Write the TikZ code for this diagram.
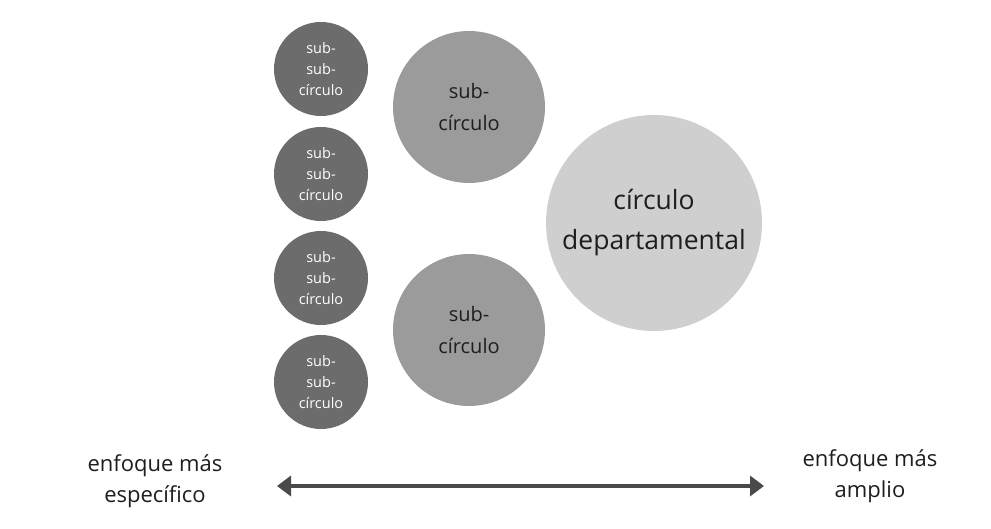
\documentclass[tikz,border=0pt]{standalone}
\usepackage{fontspec}
\setmainfont{Open Sans}
\usetikzlibrary{arrows.meta,positioning}
\definecolor{ssubclr}{RGB}{108,108,108}
\definecolor{subclr}{RGB}{155,155,155}
\definecolor{deptclr}{RGB}{207,207,207}
\definecolor{arrclr}{RGB}{74,74,74}
\definecolor{txtclr}{RGB}{30,30,30}
\tikzset{
  %% sub-sub circle (dark)
  sscirc/.style={circle,fill=ssubclr,minimum size=94pt,inner sep=0pt,
    text=white,align=center,font=\fontsize{14.5}{21}\selectfont},
  %% sub circle (mid grey)
  scirc/.style={circle,fill=subclr,minimum size=152pt,inner sep=0pt,
    text=txtclr,align=center,font=\fontsize{20}{32}\selectfont},
  %% department circle (light)
  dcirc/.style={circle,fill=deptclr,minimum size=216pt,inner sep=0pt,
    text=txtclr,align=center,font=\fontsize{26.5}{40}\selectfont},
  %% axis arrow
  axarr/.style={{Triangle[length=14pt,width=20pt]}-{Triangle[length=14pt,width=20pt]},
    line width=4pt,color=arrclr},
  lbl/.style={font=\fontsize{22}{31}\selectfont,text=txtclr,align=center},
}
\begin{document}
\begin{tikzpicture}[x=1pt,y=-1pt]
  \useasboundingbox (0,0) rectangle (991,529);
  %% sub-sub circles
  \node[sscirc] (ss1) at (321,69)  {sub-\\sub-\\círculo};
  \node[sscirc] (ss2) at (321,174) {sub-\\sub-\\círculo};
  \node[sscirc] (ss3) at (321,278) {sub-\\sub-\\círculo};
  \node[sscirc] (ss4) at (321,382) {sub-\\sub-\\círculo};
  %% sub circles
  \node[scirc] (s1) at (469,107) {sub-\\círculo};
  \node[scirc] (s2) at (469,330) {sub-\\círculo};
  %% department circle
  \node[dcirc] (dept) at (654,223) {círculo\\departamental};
  %% axis
  \coordinate (aL) at (277,486);
  \coordinate (aR) at (764,486);
  \draw[axarr] (aL) -- (aR);
  \node[lbl] (lspec) at (155,481) {enfoque más\\específico};
  \node[lbl] (lwide) at (870,476) {enfoque más\\amplio};
\end{tikzpicture}
\end{document}
